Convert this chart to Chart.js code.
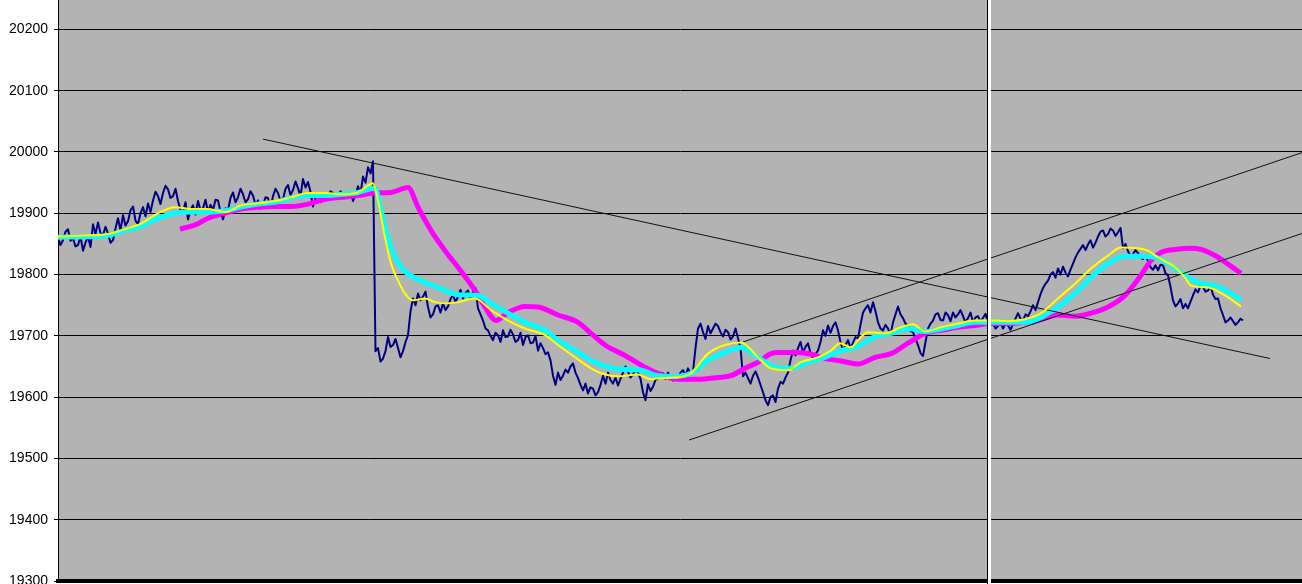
<!DOCTYPE html>
<html>
<head>
<meta charset="utf-8">
<script src="https://cdn.jsdelivr.net/npm/chart.js@4.4.0/dist/chart.umd.min.js"></script>
<style>
  html, body { margin: 0; padding: 0; background: #fff; overflow: hidden; }
  canvas { display: block; }
</style>
</head>
<body>
<canvas id="chart" width="1302" height="584"></canvas>
<script>
// y axis labels
const yTicks = [19300, 19400, 19500, 19600, 19700, 19800, 19900, 20000, 20100, 20200];

// price, one sample every 5 time units
const priceStep = 5;
const price = [
  19861, 19856, 19874, 19859, 19848, 19839, 19862, 19882, 19885, 19864,
  19867, 19856, 19892, 19897, 19887, 19911, 19882, 19910, 19916, 19921,
  19928, 19933, 19939, 19928, 19920, 19902, 19890, 19913, 19920, 19908,
  19902, 19905, 19921, 19890, 19905, 19934, 19926, 19931, 19923, 19929,
  19921, 19913, 19925, 19928, 19933, 19923, 19946, 19938, 19941, 19956,
  19951, 19911, 19929, 19931, 19928, 19933, 19929, 19931, 19928, 19920,
  19944, 19960, 19975, 19985, 19680, 19663, 19698, 19685, 19680, 19675,
  19701, 19761, 19769, 19764, 19747, 19735, 19750, 19753, 19748, 19767,
  19764, 19761, 19774, 19771, 19745, 19725, 19709, 19693, 19701, 19709,
  19699, 19702, 19693, 19685, 19701, 19689, 19676, 19680, 19673, 19635,
  19640, 19635, 19640, 19655, 19631, 19611, 19606, 19614, 19608, 19635,
  19640, 19622, 19619, 19640, 19642, 19637, 19640, 19608, 19621, 19617,
  19631, 19639, 19640, 19627, 19631, 19644, 19647, 19642, 19712, 19706,
  19716, 19712, 19716, 19699, 19706, 19699, 19696, 19634, 19631, 19635,
  19632, 19608, 19587, 19603, 19614, 19622, 19640, 19676, 19680, 19673,
  19688, 19663, 19676, 19709, 19717, 19716, 19709, 19676, 19693, 19689,
  19696, 19738, 19750, 19755, 19722, 19709, 19712, 19722, 19748, 19729,
  19717, 19706, 19685, 19667, 19712, 19725, 19737, 19725, 19734, 19738,
  19735, 19732, 19729, 19722, 19732, 19729, 19722, 19720, 19716, 19712,
  19717, 19719, 19737, 19725, 19732, 19750, 19755, 19778, 19790, 19804,
  19810, 19813, 19797, 19818, 19836, 19848, 19849, 19844, 19862, 19872,
  19866, 19872, 19869, 19843, 19838, 19833, 19835, 19825, 19822, 19808,
  19807, 19815, 19799, 19758, 19753, 19745, 19745, 19766, 19771, 19780,
  19774, 19767, 19761, 19734, 19725, 19724, 19722, 19725
];

// intra-interval swing, read halfway between two price samples
const priceSwing = [
  19848, 19870, 19855, 19846, 19862, 19852, 19845, 19866, 19868, 19878,
  19852, 19875, 19872, 19880, 19905, 19888, 19900, 19895, 19902, 19935,
  19915, 19945, 19925, 19940, 19905, 19918, 19905, 19898, 19905, 19922,
  19914, 19922, 19902, 19908, 19925, 19918, 19940, 19918, 19936, 19914,
  19908, 19926, 19910, 19940, 19920, 19940, 19930, 19952, 19928, 19942,
  19935, 19925, 19918, 19925, 19936, 19924, 19936, 19925, 19935, 19930,
  19932, 19950, 19965, 19675, 19658, 19675, 19682, 19695, 19665, 19690,
  19740, 19750, 19758, 19772, 19730, 19748, 19738, 19742, 19760, 19755,
  19775, 19770, 19760, 19778, 19735, 19712, 19700, 19705, 19690, 19698,
  19710, 19690, 19705, 19698, 19688, 19700, 19688, 19670, 19660, 19620,
  19628, 19645, 19650, 19640, 19620, 19622, 19616, 19603, 19620, 19622,
  19628, 19632, 19630, 19650, 19632, 19645, 19630, 19595, 19610, 19628,
  19640, 19630, 19632, 19636, 19640, 19636, 19638, 19680, 19720, 19695,
  19704, 19720, 19706, 19710, 19694, 19712, 19680, 19640, 19622, 19642,
  19620, 19595, 19600, 19592, 19625, 19632, 19660, 19668, 19690, 19682,
  19672, 19670, 19690, 19700, 19705, 19722, 19690, 19685, 19680, 19698,
  19718, 19745, 19738, 19740, 19712, 19718, 19702, 19735, 19735, 19720,
  19708, 19695, 19672, 19690, 19720, 19735, 19726, 19738, 19724, 19730,
  19742, 19722, 19738, 19730, 19724, 19736, 19725, 19712, 19722, 19720,
  19710, 19728, 19728, 19735, 19740, 19742, 19768, 19785, 19800, 19795,
  19800, 19803, 19808, 19828, 19842, 19840, 19856, 19852, 19870, 19862,
  19875, 19863, 19876, 19850, 19830, 19840, 19828, 19832, 19812, 19815,
  19816, 19802, 19780, 19748, 19760, 19752, 19756, 19776, 19782, 19772,
  19782, 19760, 19745, 19722, 19730, 19718, 19728
];

// moving averages as [time, value]
const yellowMA = [
  [0, 19862], [33, 19864], [50, 19866], [67, 19874], [83, 19883], [100, 19900],
  [117, 19910], [133, 19907], [150, 19907], [167, 19902], [183, 19913], [200, 19916],
  [217, 19920], [233, 19926], [250, 19933], [267, 19933], [283, 19931], [300, 19934],
  [315, 19949], [320, 19921], [327, 19861], [333, 19818], [340, 19790], [347, 19769],
  [355, 19758], [367, 19761], [377, 19755], [390, 19753], [400, 19755], [417, 19761],
  [433, 19742], [450, 19725], [467, 19712], [487, 19701], [500, 19685], [517, 19665],
  [533, 19647], [543, 19639], [560, 19634], [580, 19637], [593, 19629], [600, 19631],
  [617, 19632], [633, 19639], [650, 19671], [667, 19685], [683, 19689], [700, 19665],
  [713, 19647], [730, 19644], [743, 19657], [760, 19665], [773, 19676], [782, 19688],
  [793, 19681], [800, 19693], [810, 19706], [827, 19704], [843, 19714], [855, 19719],
  [867, 19707], [883, 19714], [900, 19720], [917, 19725], [933, 19725], [950, 19724],
  [967, 19727], [983, 19737], [1000, 19761], [1017, 19785], [1033, 19810], [1050, 19831],
  [1063, 19844], [1080, 19843], [1090, 19839], [1100, 19828], [1117, 19812], [1127, 19795],
  [1133, 19782], [1150, 19779], [1167, 19766], [1183, 19748]
];

const cyanMA = [
  [0, 19861], [33, 19862], [50, 19864], [67, 19872], [83, 19879], [100, 19892],
  [117, 19900], [133, 19902], [150, 19902], [167, 19904], [183, 19910], [200, 19915],
  [217, 19918], [233, 19925], [250, 19929], [267, 19929], [283, 19931], [300, 19934],
  [317, 19941], [323, 19905], [327, 19877], [333, 19844], [343, 19812], [352, 19799],
  [367, 19787], [383, 19777], [400, 19767], [420, 19766], [433, 19753], [450, 19737],
  [467, 19722], [487, 19709], [500, 19693], [517, 19676], [533, 19660], [550, 19649],
  [567, 19645], [583, 19644], [600, 19635], [617, 19634], [633, 19639], [650, 19660],
  [667, 19673], [683, 19681], [700, 19665], [717, 19649], [733, 19647], [750, 19657],
  [767, 19665], [783, 19676], [800, 19683], [817, 19699], [833, 19704], [850, 19712],
  [867, 19707], [883, 19711], [900, 19717], [917, 19722], [933, 19722], [950, 19722],
  [967, 19722], [983, 19730], [1000, 19747], [1017, 19769], [1033, 19795], [1050, 19818],
  [1067, 19830], [1083, 19830], [1100, 19827], [1117, 19810], [1127, 19799], [1140, 19787],
  [1157, 19782], [1173, 19769], [1183, 19759]
];

const magentaMA = [
  [122, 19874], [140, 19883], [150, 19892], [167, 19900], [183, 19907], [200, 19910],
  [217, 19911], [233, 19911], [250, 19915], [267, 19923], [283, 19926], [300, 19929],
  [317, 19933], [333, 19934], [350, 19942], [360, 19910], [373, 19872], [387, 19839],
  [400, 19812], [417, 19774], [427, 19747], [438, 19725], [450, 19738], [467, 19748],
  [480, 19747], [500, 19734], [520, 19722], [533, 19704], [547, 19685], [567, 19668],
  [587, 19649], [600, 19639], [620, 19629], [640, 19629], [660, 19632], [673, 19635],
  [687, 19647], [700, 19657], [713, 19671], [720, 19673], [740, 19673], [753, 19670],
  [767, 19663], [783, 19659], [800, 19654], [817, 19665], [833, 19671], [850, 19688],
  [867, 19704], [883, 19709], [900, 19714], [917, 19717], [933, 19720], [950, 19720],
  [967, 19722], [983, 19727], [1000, 19734], [1017, 19732], [1033, 19737], [1050, 19747],
  [1067, 19766], [1083, 19799], [1093, 19823], [1103, 19836], [1117, 19841], [1133, 19843],
  [1143, 19841], [1157, 19831], [1170, 19817], [1183, 19802]
];

// hand-drawn trend lines, [start, end] as [time, value]
const downTrend = [[205, 20021], [1212, 19663]];
const channelLow = [[631, 19530], [1244, 19867]];
const channelHigh = [[685, 19690], [1244, 19999]];

// session boundary (time units)
const sessionBreak = 931;
const timeMax = 1244;

const toPoints = pairs => pairs.map(p => ({ x: p[0], y: p[1] }));

// price samples with the swing value slotted in between
const pricePoints = [];
price.forEach((v, i) => {
  pricePoints.push({ x: i * priceStep, y: v });
  if (i < priceSwing.length) {
    pricePoints.push({ x: i * priceStep + priceStep / 2, y: priceSwing[i] });
  }
});

const plotBackground = {
  id: 'plotBackground',
  beforeDraw(chart) {
    const { ctx, chartArea: a } = chart;
    ctx.save();
    ctx.fillStyle = '#b3b3b3';
    ctx.fillRect(a.left, a.top, a.right - a.left, a.bottom - a.top);
    ctx.restore();
  }
};

const sessionLine = {
  id: 'sessionLine',
  afterDatasetsDraw(chart) {
    const { ctx, chartArea: a, scales } = chart;
    const x = Math.round(scales.x.getPixelForValue(sessionBreak));
    ctx.save();
    ctx.fillStyle = '#000';
    ctx.fillRect(x - 2, a.top, 1, chart.height - a.top);
    ctx.fillStyle = '#fff';
    ctx.fillRect(x - 1, a.top, 3, chart.height - a.top);
    ctx.restore();
  }
};

function trend(pairs) {
  return {
    data: toPoints(pairs),
    borderColor: '#111',
    borderWidth: 1,
    order: 1
  };
}

new Chart(document.getElementById('chart'), {
  type: 'line',
  data: {
    datasets: [
      {
        data: pricePoints,
        borderColor: '#000080',
        borderWidth: 2,
        order: 4
      },
      {
        data: toPoints(magentaMA),
        borderColor: '#ff00ff',
        borderWidth: 5,
        cubicInterpolationMode: 'monotone',
        order: 3
      },
      {
        data: toPoints(cyanMA),
        borderColor: '#00ffff',
        borderWidth: 5,
        cubicInterpolationMode: 'monotone',
        order: 2
      },
      {
        data: toPoints(yellowMA),
        borderColor: '#ffff00',
        borderWidth: 2,
        cubicInterpolationMode: 'monotone',
        order: 0
      },
      trend(downTrend),
      trend(channelLow),
      trend(channelHigh)
    ]
  },
  options: {
    responsive: false,
    animation: false,
    devicePixelRatio: 1,
    layout: { padding: 0 },
    plugins: {
      legend: { display: false },
      tooltip: { enabled: false }
    },
    elements: {
      point: { radius: 0 },
      line: { tension: 0, borderJoinStyle: 'round' }
    },
    scales: {
      x: {
        type: 'linear',
        min: 0,
        max: timeMax,
        ticks: { display: false },
        grid: { display: false },
        border: { color: '#000', width: 4 },
        afterFit: s => { s.height = 3; }
      },
      y: {
        min: 19300,
        max: 20248,
        afterBuildTicks: s => { s.ticks = yTicks.map(v => ({ value: v })); },
        ticks: {
          color: '#000',
          padding: 6,
          font: { family: "'Liberation Sans', Arial, sans-serif", size: 14 },
          callback: v => String(v)
        },
        grid: { color: '#000', lineWidth: 1, tickLength: 4 },
        border: { color: '#000', width: 1 },
        afterFit: s => { s.width = 58; s.paddingTop = 0; s.paddingBottom = 0; }
      }
    }
  },
  plugins: [plotBackground, sessionLine]
});
</script>
</body>
</html>
